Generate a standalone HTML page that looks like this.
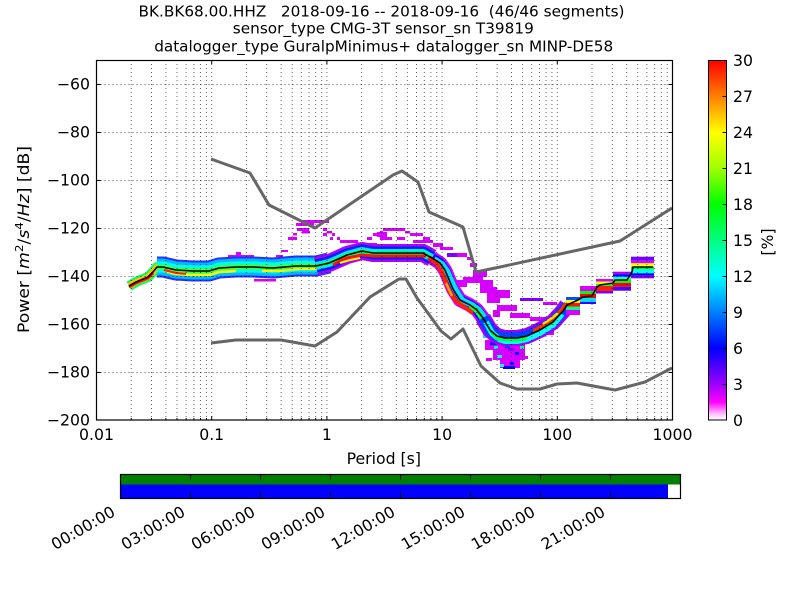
<!DOCTYPE html>
<html><head><meta charset="utf-8">
<style>html,body{margin:0;padding:0;background:#fff}svg{display:block}text{white-space:pre}</style>
</head>
<body>
<svg width="800" height="600" viewBox="0 0 800 600" xmlns="http://www.w3.org/2000/svg" font-family="'DejaVu Sans','Liberation Sans',sans-serif">
<defs>
<linearGradient id="cb" x1="0" y1="0" x2="0" y2="1">
<stop offset="0" stop-color="#ff0000"/>
<stop offset="0.1" stop-color="#ff8000"/>
<stop offset="0.2" stop-color="#ffff00"/>
<stop offset="0.3" stop-color="#a0ff00"/>
<stop offset="0.4" stop-color="#00ff00"/>
<stop offset="0.5" stop-color="#00ff80"/>
<stop offset="0.6" stop-color="#00ffff"/>
<stop offset="0.7" stop-color="#0080ff"/>
<stop offset="0.8" stop-color="#0000ff"/>
<stop offset="0.9" stop-color="#9a00ff"/>
<stop offset="0.95" stop-color="#ff00ff"/>
<stop offset="0.985" stop-color="#ffc8ff"/>
<stop offset="1" stop-color="#ffffff"/>
</linearGradient>
<clipPath id="pc"><rect x="96.5" y="60.5" width="576" height="359"/></clipPath>
</defs>
<rect width="800" height="600" fill="#fff"/>

<!-- titles -->
<text x="381.5" y="16.5" font-size="15.3" text-anchor="middle" textLength="486" lengthAdjust="spacingAndGlyphs">BK.BK68.00.HHZ   2018-09-16 -- 2018-09-16  (46/46 segments)</text>
<text x="383.3" y="33.5" font-size="15.3" text-anchor="middle" textLength="301" lengthAdjust="spacingAndGlyphs">sensor_type CMG-3T sensor_sn T39819</text>
<text x="383.7" y="51.5" font-size="15.3" text-anchor="middle" textLength="459" lengthAdjust="spacingAndGlyphs">datalogger_type GuralpMinimus+ datalogger_sn MINP-DE58</text>

<!-- plot background -->
<rect x="96.5" y="60.5" width="576" height="359" fill="#fff"/>

<g clip-path="url(#pc)">
<!-- magenta scatter -->
<g fill="#d800ff">
<rect x="301" y="220" width="28" height="3"/>
<rect x="296" y="223" width="18" height="3"/>
<rect x="297" y="228" width="12" height="3"/>
<rect x="302" y="231" width="8" height="2.5"/>
<rect x="323" y="228" width="4" height="3"/>
<rect x="327" y="231" width="5" height="2.5"/>
<rect x="293" y="233" width="4" height="2.5"/>
<rect x="288" y="237" width="9" height="3"/>
<rect x="323" y="233" width="4" height="3"/>
<rect x="332" y="233" width="3" height="3"/>
<rect x="330" y="237" width="3" height="3"/>
<rect x="337" y="237" width="3" height="3"/>
<rect x="281" y="250" width="7" height="2"/>
<rect x="276" y="255" width="7" height="2"/>
<rect x="228" y="255" width="26" height="2"/>
<rect x="236" y="252" width="5" height="3"/>
<rect x="254" y="279" width="22" height="2.5"/>
<rect x="179" y="261" width="5" height="2"/>
<rect x="145" y="272" width="4" height="2"/>
<rect x="383" y="228" width="22" height="3"/>
<rect x="380" y="231" width="3" height="2.5"/>
<rect x="373" y="233" width="5" height="3"/>
<rect x="367" y="237" width="5" height="3"/>
<rect x="380" y="237" width="12" height="3"/>
<rect x="397" y="237" width="8" height="3"/>
<rect x="405" y="231" width="5" height="2.5"/>
<rect x="410" y="233" width="13" height="3"/>
<rect x="423" y="237" width="7" height="3"/>
<rect x="340" y="240" width="18" height="3"/>
<rect x="358" y="243" width="19" height="2.5"/>
<rect x="377" y="232" width="10" height="5"/>
<rect x="413" y="240" width="20" height="3"/>
<rect x="433" y="243" width="10" height="4"/>
<rect x="440" y="247" width="13" height="3"/>
<rect x="457" y="253" width="10" height="4"/>
<rect x="467" y="257" width="6" height="3"/>
<rect x="470" y="263" width="7" height="4"/>
<rect x="473" y="270" width="14" height="7"/>
<rect x="480" y="280" width="13" height="8"/>
<rect x="487" y="293" width="13" height="10"/>
<rect x="493" y="310" width="7" height="7"/>
<rect x="445" y="270" width="8" height="5"/>
<rect x="450" y="280" width="17" height="7"/>
<rect x="463" y="277" width="20" height="6"/>
<rect x="480" y="287" width="17" height="6"/>
<rect x="490" y="290" width="20" height="8"/>
<rect x="497" y="305" width="20" height="6"/>
<rect x="510" y="313" width="20" height="5"/>
<rect x="530" y="317" width="17" height="4"/>
<rect x="543" y="302" width="14" height="3"/>
<rect x="485" y="340" width="40" height="10"/>
<rect x="493" y="350" width="32" height="10"/>
<rect x="500" y="360" width="20" height="8"/>
<rect x="530" y="327" width="24" height="8"/>
<rect x="580" y="286" width="16" height="3"/>
<rect x="486" y="358" width="6" height="3"/>
<rect x="523" y="356" width="5" height="3"/>
</g>
<g fill="#8000ff">
<rect x="447" y="253" width="10" height="4"/>
<rect x="158" y="257" width="5" height="3"/>
<rect x="520" y="298" width="23" height="3"/>
<rect x="535" y="330" width="8" height="3"/>
<rect x="508" y="348" width="6" height="3"/>
</g>
<!-- lower lobe specks -->
<rect x="490" y="342" width="6" height="3" fill="#0000ff"/>
<rect x="505" y="345" width="5" height="3" fill="#0040ff"/>
<rect x="483" y="333" width="12" height="5" fill="#00e0ff"/>
<rect x="497" y="355" width="5" height="3" fill="#00ffff"/>
<rect x="510" y="362" width="4" height="3" fill="#0000ff"/>
<rect x="503" y="366" width="12" height="3" fill="#0000ff"/>
<rect x="515" y="352" width="4" height="3" fill="#0020ff"/>
<rect x="500" y="364" width="4" height="3" fill="#00ffff"/>
<rect x="520" y="346" width="4" height="3" fill="#00ff80"/>
<rect x="494" y="346" width="4" height="3" fill="#00ffff"/>

<g fill="none" stroke-linejoin="round" stroke-linecap="butt">
<!-- Seg A -->
<polyline points="129,286 136,282 148,277 153,272 157,267 163,267" stroke="#00ff60" stroke-width="10"/>
<polyline points="129,286 136,282 148,277 153,272 157,267 163,267" stroke="#ffc000" stroke-width="6"/>
<polyline points="129,287 136,283 148,278 153,273" stroke="#ff1000" stroke-width="3"/>
<!-- Seg B -->
<polyline points="157,267 163,267 176,270 193,271 209,271 219,268 236,267 253,267 273,268 296,266 316,266 329,263" stroke="#2a30ff" stroke-width="21"/>
<polyline points="157,267 163,267 176,270 193,271 209,271 219,268 236,267 253,267 273,268 296,266 316,266 329,263" stroke="#00b8ff" stroke-width="17"/>
<polyline points="157,267 163,267 176,270 193,271 209,271 219,268 236,267 253,267 273,268 296,266 316,266 329,263" stroke="#00ffe8" stroke-width="11"/>
<polyline points="157,267 163,267 176,270 193,271 209,271 219,268 236,267 253,267 273,268 296,266 316,266 329,263" stroke="#40ff40" stroke-width="5"/>
<polyline points="165,271 176,274 193,275 209,275 219,272 236,271" stroke="#ffff00" stroke-width="2.5"/>
<polyline points="164,270 176,273 186,274" stroke="#ff2000" stroke-width="2"/>
<polyline points="262,271 280,271 300,269 318,269" stroke="#ffff00" stroke-width="2"/>
<!-- Seg C -->
<polyline points="316,266 329,263 336,260 347,255 362,251 373,253 393,253 410,253 423,253 432,258" stroke="#b000ff" stroke-width="18"/>
<polyline points="316,266 329,263 336,260 347,255 362,251 373,253 393,253 410,253 423,253 432,258" stroke="#0020ff" stroke-width="13"/>
<polyline points="316,266 329,263 336,260 347,255 362,251 373,253 393,253 410,253 423,253 432,258" stroke="#00e8ff" stroke-width="8"/>
<polyline points="316,266 329,263 336,260 347,255 362,251 373,253 393,253 410,253 423,253 432,258" stroke="#00ff70" stroke-width="4"/>
<polyline points="333,265 340,261 347,258 362,255 373,256 393,256 410,256 426,256" stroke="#ff1000" stroke-width="3"/>
<polyline points="340,263 350,260 360,258" stroke="#ffff00" stroke-width="2"/>
<!-- Seg D -->
<polyline points="432,258 440,263 445,270 453,289 460,300 470,305 477,310 483,318 490,330 497,336" stroke="#d000ff" stroke-width="14"/>
<polyline points="432,258 440,263 445,270 453,289 460,300 470,305 477,310 483,318 490,330 497,336" stroke="#2000ff" stroke-width="10"/>
<polyline points="434,259 442,264 447,271 455,289 462,300 472,305 479,310 485,318 492,330 498,335" stroke="#00e0ff" stroke-width="6"/>
<polyline points="470,306 477,311 483,320" stroke="#00ff40" stroke-width="5"/>
<polyline points="428,258 437,264 442,272 449,290 456,301 466,308 473,313" stroke="#ff2000" stroke-width="4"/>
<polyline points="446,283 452,296" stroke="#ffa000" stroke-width="2.5"/>
<!-- Seg E -->
<polyline points="483,318 490,330 497,336 505,338 517,338 527,336 540,330 553,322 563,311 567,305" stroke="#a000ff" stroke-width="16"/>
<polyline points="483,318 490,330 497,336 505,338 517,338 527,336 540,330 553,322 563,311 567,305" stroke="#0040ff" stroke-width="11"/>
<polyline points="486,322 492,333 499,339 505,341 517,341 527,339 540,333 553,325 562,314" stroke="#00ffff" stroke-width="6"/>
<polyline points="490,331 497,338 505,340 517,340 527,338" stroke="#00ff40" stroke-width="3"/>
<polyline points="533,331 542,326 553,319 562,309 566,303" stroke="#ff3000" stroke-width="3.5"/>
<polyline points="543,324 552,318 558,313" stroke="#ffe000" stroke-width="2.5"/>
<polyline points="545,327 555,321" stroke="#00ff00" stroke-width="2"/>
</g>

<!-- blocks -->
<rect x="566" y="297" width="14" height="3" fill="#0050ff"/>
<rect x="566" y="300" width="14" height="3" fill="#ffff00"/>
<rect x="566" y="303" width="14" height="3.5" fill="#ff1000"/>
<rect x="566" y="306.5" width="14" height="3.5" fill="#00ff80"/>
<rect x="566" y="310" width="14" height="5" fill="#d800ff"/>
<rect x="580" y="289" width="16" height="2" fill="#d800ff"/>
<rect x="580" y="291" width="16" height="3" fill="#00ff00"/>
<rect x="580" y="294" width="16" height="4" fill="#ff0000"/>
<rect x="580" y="298" width="16" height="4" fill="#00e0ff"/>
<rect x="580" y="302" width="16" height="2" fill="#4000ff"/>
<rect x="596" y="279" width="17" height="2.5" fill="#d800ff"/>
<rect x="596" y="281.5" width="17" height="2.5" fill="#ffff00"/>
<rect x="596" y="284" width="17" height="2" fill="#00ff40"/>
<rect x="596" y="286" width="17" height="5" fill="#ff2000"/>
<rect x="596" y="291" width="17" height="2.5" fill="#8000ff"/>
<rect x="613" y="271.7" width="18" height="2.5" fill="#b000ff"/>
<rect x="613" y="274.2" width="18" height="2.5" fill="#0000ff"/>
<rect x="613" y="276.7" width="18" height="2.6" fill="#00ffff"/>
<rect x="613" y="279.3" width="18" height="3.7" fill="#00ff00"/>
<rect x="613" y="283" width="18" height="3.7" fill="#ff0000"/>
<rect x="613" y="286.7" width="18" height="4" fill="#5000ff"/>
<rect x="631" y="256.7" width="23" height="4" fill="#7000ff"/>
<rect x="631" y="260.7" width="23" height="2.6" fill="#d800ff"/>
<rect x="631" y="263.3" width="23" height="3.4" fill="#ffff00"/>
<rect x="631" y="266.7" width="23" height="2.6" fill="#00ff00"/>
<rect x="631" y="269.3" width="23" height="4" fill="#00ffff"/>
<rect x="631" y="273.3" width="23" height="2.4" fill="#0000ff"/>
<rect x="631" y="275.7" width="23" height="2.6" fill="#8000ff"/>

<!-- grid -->
<path d="M131.2 60V420M151.5 60V420M165.9 60V420M177 60V420M186.1 60V420M193.9 60V420M200.5 60V420M206.4 60V420M211.7 60V420M246.4 60V420M266.7 60V420M281.1 60V420M292.2 60V420M301.3 60V420M309.1 60V420M315.7 60V420M321.6 60V420M326.9 60V420M361.6 60V420M381.9 60V420M396.3 60V420M407.4 60V420M416.5 60V420M424.3 60V420M430.9 60V420M436.8 60V420M442.1 60V420M476.8 60V420M497.1 60V420M511.5 60V420M522.6 60V420M531.7 60V420M539.5 60V420M546.1 60V420M552 60V420M557.3 60V420M592 60V420M612.3 60V420M626.7 60V420M637.8 60V420M646.9 60V420M654.7 60V420M661.3 60V420M667.2 60V420" stroke="#000" stroke-width="1" stroke-dasharray="1,3" fill="none" opacity="0.6"/>
<path d="M96.5 84.5H672.5M96.5 132.5H672.5M96.5 180.5H672.5M96.5 228.5H672.5M96.5 276.5H672.5M96.5 324.5H672.5M96.5 372.5H672.5" stroke="#000" stroke-width="1" stroke-dasharray="1,3" fill="none" opacity="0.65"/>

<!-- black mode line -->
<polyline fill="none" stroke="#000" stroke-width="1.6" stroke-linejoin="round" points="129,286 136,282 148,277 153,272 157,267 163,267 176,270 193,271 209,271 219,268 236,267 253,267 273,268 296,266 316,266 329,263 336,260 347,255 362,251 373,253 393,253 410,253 423,253 432,258 440,263 445,270 453,289 460,300 470,305 477,310 483,318 490,330 497,336 505,338 517,338 527,336 540,330 553,322 563,311 567,305 578,300 583,297 592,296 597,287 600,285 613,283 615,280 627,280 632,272 633,267 653,267"/>

<!-- noise models -->
<polyline fill="none" stroke="#666" stroke-width="3" stroke-linejoin="round" points="211,159 250,173 269,205 315,228 393,175 402,171 418,182 429,212 463,227 476,272 500,267 620,241 672,208"/>
<polyline fill="none" stroke="#666" stroke-width="3" stroke-linejoin="round" points="211,343 236,340 281,340 315,346 337,332 370,297 399,279 406,279 417,298 441,331 451,339 463,329 481,366 500,383 517,389 540,389 557,384 577,383 615,390 645,382 672,368"/>
</g>

<!-- ticks -->
<path d="M211.7 420v-4M326.9 420v-4M442.1 420v-4M557.3 420v-4M211.7 60v4M326.9 60v4M442.1 60v4M557.3 60v4M96.5 84.5h4M96.5 132.5h4M96.5 180.5h4M96.5 228.5h4M96.5 276.5h4M96.5 324.5h4M96.5 372.5h4M672.5 84.5h-4M672.5 132.5h-4M672.5 180.5h-4M672.5 228.5h-4M672.5 276.5h-4M672.5 324.5h-4M672.5 372.5h-4" stroke="#000" stroke-width="1"/>
<path d="M131.2 420v-2M151.5 420v-2M165.9 420v-2M177 420v-2M186.1 420v-2M193.9 420v-2M200.5 420v-2M206.4 420v-2M246.4 420v-2M266.7 420v-2M281.1 420v-2M292.2 420v-2M301.3 420v-2M309.1 420v-2M315.7 420v-2M321.6 420v-2M361.6 420v-2M381.9 420v-2M396.3 420v-2M407.4 420v-2M416.5 420v-2M424.3 420v-2M430.9 420v-2M436.8 420v-2M476.8 420v-2M497.1 420v-2M511.5 420v-2M522.6 420v-2M531.7 420v-2M539.5 420v-2M546.1 420v-2M552 420v-2M592 420v-2M612.3 420v-2M626.7 420v-2M637.8 420v-2M646.9 420v-2M654.7 420v-2M661.3 420v-2M667.2 420v-2" stroke="#000" stroke-width="1"/>

<!-- frame -->
<rect x="96.5" y="60.5" width="576" height="359.5" fill="none" stroke="#000" stroke-width="1.2"/>

<!-- axis tick labels -->
<g font-size="15.7" text-anchor="middle">
<text x="96.5" y="440">0.01</text>
<text x="211.7" y="440">0.1</text>
<text x="326.9" y="440">1</text>
<text x="442.1" y="440">10</text>
<text x="557.3" y="440">100</text>
<text x="672.5" y="440">1000</text>
</g>
<g font-size="15.7" text-anchor="end">
<text x="90" y="89.7">−60</text>
<text x="90" y="137.7">−80</text>
<text x="90" y="185.7">−100</text>
<text x="90" y="233.7">−120</text>
<text x="90" y="281.7">−140</text>
<text x="90" y="329.7">−160</text>
<text x="90" y="377.7">−180</text>
<text x="90" y="425.7">−200</text>
</g>
<text x="383.8" y="464" font-size="15.7" text-anchor="middle">Period [s]</text>
<text transform="translate(29,239.5) rotate(-90)" font-size="15.7" text-anchor="middle" textLength="187" lengthAdjust="spacingAndGlyphs">Power [<tspan font-style="italic">m</tspan><tspan font-size="11" dy="-6">2</tspan><tspan dy="6">/</tspan><tspan font-style="italic">s</tspan><tspan font-size="11" dy="-6">4</tspan><tspan dy="6">/</tspan><tspan font-style="italic">Hz</tspan>] [dB]</text>

<!-- colorbar -->
<rect x="708.5" y="60.5" width="18" height="359.5" fill="url(#cb)" stroke="#000" stroke-width="1"/>
<path d="M726.5 96.5h-4M726.5 132.5h-4M726.5 168.5h-4M726.5 204.5h-4M726.5 240.5h-4M726.5 276.5h-4M726.5 312.5h-4M726.5 348.5h-4M726.5 384.5h-4" stroke="#000" stroke-width="1"/>
<g font-size="15.7">
<text x="733" y="66">30</text>
<text x="733" y="102">27</text>
<text x="733" y="138">24</text>
<text x="733" y="174">21</text>
<text x="733" y="210">18</text>
<text x="733" y="246">15</text>
<text x="733" y="282">12</text>
<text x="733" y="318">9</text>
<text x="733" y="354">6</text>
<text x="733" y="390">3</text>
<text x="733" y="426">0</text>
</g>
<text transform="translate(773,242) rotate(-90)" font-size="15.7" text-anchor="middle">[%]</text>

<!-- bottom data availability bar -->
<rect x="120.5" y="474.5" width="560" height="24" fill="#fff"/>
<rect x="120.5" y="474.5" width="560" height="10" fill="#008000"/>
<rect x="120.5" y="484.5" width="547.5" height="14" fill="#0000ff"/>
<rect x="120.5" y="474.5" width="560" height="24" fill="none" stroke="#000" stroke-width="1.2"/>
<path d="M190.5 474.5v5M260.5 474.5v5M330.5 474.5v5M400.5 474.5v5M470.5 474.5v5M540.5 474.5v5M610.5 474.5v5M190.5 498.5v-6M260.5 498.5v-6M330.5 498.5v-6M400.5 498.5v-6M470.5 498.5v-6M540.5 498.5v-6M610.5 498.5v-6" stroke="#000" stroke-width="1"/>
<g font-size="15.7" text-anchor="end">
<text transform="translate(116.3,515) rotate(-30)">00:00:00</text>
<text transform="translate(186.3,515) rotate(-30)">03:00:00</text>
<text transform="translate(256.3,515) rotate(-30)">06:00:00</text>
<text transform="translate(326.3,515) rotate(-30)">09:00:00</text>
<text transform="translate(396.3,515) rotate(-30)">12:00:00</text>
<text transform="translate(466.3,515) rotate(-30)">15:00:00</text>
<text transform="translate(536.3,515) rotate(-30)">18:00:00</text>
<text transform="translate(606.3,515) rotate(-30)">21:00:00</text>
</g>
</svg>
</body>
</html>
